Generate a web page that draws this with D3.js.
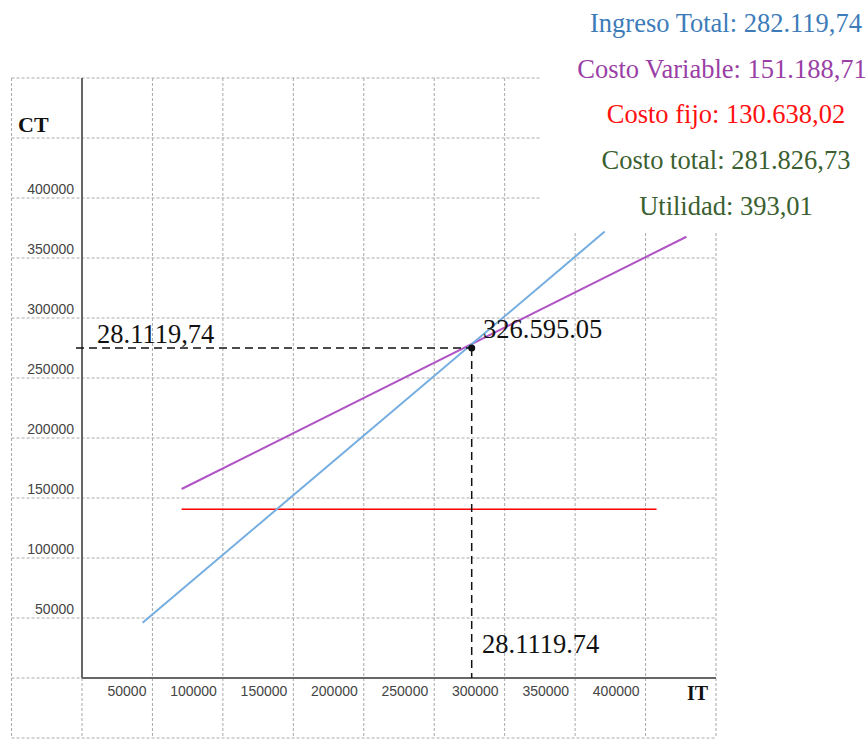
<!doctype html>
<meta charset="utf-8">
<style>
  body { margin: 0; background: #fff; }
  svg { display: block; }
  .grid line { stroke: #a9a9a9; stroke-width: 1; stroke-dasharray: 3,2; }
  .tick-label { font-family: "Liberation Sans", Arial, sans-serif; font-size: 14px; fill: #444; }
  .note { font-family: "Liberation Serif", "Times New Roman", serif; font-size: 26.5px; fill: #111; }
  .legend { font-family: "Liberation Serif", "Times New Roman", serif; font-size: 26.5px; text-anchor: middle; }
  .axis-title { font-family: "Liberation Serif", "Times New Roman", serif; font-weight: bold; fill: #111; }
</style>
<svg id="chart" width="867" height="740"></svg>
<script src="https://cdn.jsdelivr.net/npm/d3@7"></script>
<script>
  // values
  const gridX = [0, 50000, 100000, 150000, 200000, 250000, 300000, 350000, 400000, 450000];
  const gridY = [0, 50000, 100000, 150000, 200000, 250000, 300000, 350000, 400000, 450000, 500000];
  const xTickLabels = [50000, 100000, 150000, 200000, 250000, 300000, 350000, 400000];
  const yTickLabels = [50000, 100000, 150000, 200000, 250000, 300000, 350000, 400000];

  const ingresoTotal = [[43000, 46000], [371000, 372000]];
  const costoTotal = [[70700, 157500], [429000, 367700]];
  const costoFijo = [[70700, 140600], [407800, 140600]];
  const equilibrio = [276600, 275000];

  const legendLabels = ["Ingreso Total: 282.119,74", "Costo Variable: 151.188,71",
    "Costo fijo: 130.638,02", "Costo total: 281.826,73", "Utilidad: 393,01"];
  const legendColors = ["#3d7cb9", "#9a3fa6", "#ff1010", "#3b5f2f", "#3b5f2f"];

  const svg = d3.select("#chart");
  const x = d3.scaleLinear().domain([0, 450000]).range([82, 716]);
  const y = d3.scaleLinear().domain([0, 500000]).range([678, 78]);

  // grid (full dashed frame)
  const grid = svg.append("g").attr("class", "grid");
  grid.selectAll("line.v").data([-50000].concat(gridX)).enter().append("line")
    .attr("class", "v")
    .attr("x1", d => x(d)).attr("x2", d => x(d))
    .attr("y1", y(500000)).attr("y2", 738);
  grid.selectAll("line.h").data(gridY.concat([-50000])).enter().append("line")
    .attr("class", "h")
    .attr("y1", d => y(d)).attr("y2", d => y(d))
    .attr("x1", x(-50000)).attr("x2", x(450000));

  // axes
  svg.append("line").attr("x1", x(0)).attr("x2", x(0)).attr("y1", y(500000)).attr("y2", y(0))
    .attr("stroke", "#666").attr("stroke-width", 2);
  svg.append("line").attr("x1", x(0)).attr("x2", x(450000)).attr("y1", y(0)).attr("y2", y(0))
    .attr("stroke", "#666").attr("stroke-width", 2);

  svg.selectAll("text.ylab").data(yTickLabels).enter().append("text")
    .attr("class", "tick-label ylab")
    .attr("x", x(0) - 8).attr("y", d => y(d) - 4)
    .attr("text-anchor", "end")
    .text(d => d);
  svg.selectAll("text.xlab").data(xTickLabels).enter().append("text")
    .attr("class", "tick-label xlab")
    .attr("x", d => x(d) - 6).attr("y", y(0) + 18)
    .attr("text-anchor", "end")
    .text(d => d);

  svg.append("text").attr("class", "axis-title").attr("x", 18).attr("y", 132)
    .style("font-size", "22px").text("CT");
  svg.append("text").attr("class", "axis-title").attr("x", 687).attr("y", 700)
    .style("font-size", "20px").text("IT");

  // lines
  const line = d3.line().x(d => x(d[0])).y(d => y(d[1]));
  svg.append("path").datum(costoFijo).attr("d", line)
    .attr("fill", "none").attr("stroke", "#ff0000").attr("stroke-width", 1.5);
  svg.append("path").datum(costoTotal).attr("d", line)
    .attr("fill", "none").attr("stroke", "#b153c6").attr("stroke-width", 2);
  svg.append("path").datum(ingresoTotal).attr("d", line)
    .attr("fill", "none").attr("stroke", "#74ade0").attr("stroke-width", 2);

  // break-even guides
  svg.append("line")
    .attr("x1", x(0) - 6).attr("x2", x(equilibrio[0]))
    .attr("y1", y(equilibrio[1])).attr("y2", y(equilibrio[1]))
    .attr("stroke", "#111").attr("stroke-width", 1.5).attr("stroke-dasharray", "8,5");
  svg.append("line")
    .attr("x1", x(equilibrio[0])).attr("x2", x(equilibrio[0]))
    .attr("y1", y(equilibrio[1])).attr("y2", y(0))
    .attr("stroke", "#111").attr("stroke-width", 1.5).attr("stroke-dasharray", "8,5");
  svg.append("circle").attr("cx", x(equilibrio[0])).attr("cy", y(equilibrio[1]))
    .attr("r", 3.5).attr("fill", "#111");

  svg.append("text").attr("class", "note").attr("x", 97).attr("y", 343).text("28.1119,74");
  svg.append("text").attr("class", "note").attr("x", 483).attr("y", 338).text("326.595.05");
  svg.append("text").attr("class", "note").attr("x", 482).attr("y", 653).text("28.1119.74");

  // legend box over the grid
  svg.append("rect").attr("x", 540).attr("y", 0).attr("width", 327).attr("height", 231)
    .attr("fill", "#fff");
  svg.selectAll("text.legend").data(legendLabels).enter().append("text")
    .attr("class", "legend")
    .attr("x", (d, i) => i === 1 ? 722 : 726).attr("y", (d, i) => 32 + i * 45.7)
    .attr("fill", (d, i) => legendColors[i])
    .text(d => d);
</script>
